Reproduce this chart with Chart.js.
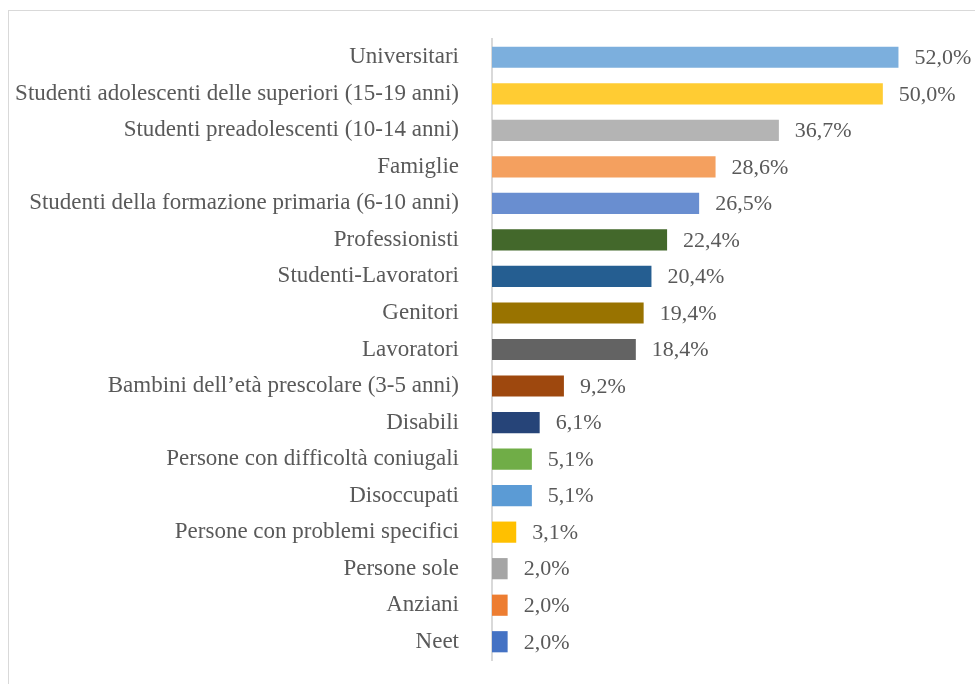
<!DOCTYPE html>
<html>
<head>
<meta charset="utf-8">
<script src="https://cdn.jsdelivr.net/npm/chart.js@4"></script>
<style>
  html, body { margin: 0; padding: 0; background: #fff; }
  #wrap { width: 975px; height: 684px; }
</style>
</head>
<body>
<div id="wrap"><canvas id="chart" width="975" height="684"></canvas></div>
<script>
// categories, top to bottom
const categories = [
    "Universitari",
    "Studenti adolescenti delle superiori (15-19 anni)",
    "Studenti preadolescenti (10-14 anni)",
    "Famiglie",
    "Studenti della formazione primaria (6-10 anni)",
    "Professionisti",
    "Studenti-Lavoratori",
    "Genitori",
    "Lavoratori",
    "Bambini dell\u2019et\u00e0 prescolare (3-5 anni)",
    "Disabili",
    "Persone con difficolt\u00e0 coniugali",
    "Disoccupati",
    "Persone con problemi specifici",
    "Persone sole",
    "Anziani",
    "Neet"
];

// percentages
const percentages = [52.0, 50.0, 36.7, 28.6, 26.5, 22.4, 20.4, 19.4, 18.4, 9.2, 6.1, 5.1, 5.1, 3.1, 2.0, 2.0, 2.0];

const barColors = [
    "#7CAFDD", "#FFCC33", "#B4B4B4", "#F4A05F", "#698ED0", "#43682B",
    "#255E91", "#997300", "#636363", "#9E480E", "#264478", "#70AD47",
    "#5B9BD5", "#FFC000", "#A5A5A5", "#ED7D31", "#4472C4"
];

const FONT = "'Liberation Serif', 'DejaVu Serif', serif";
const TEXT_COLOR = "#595959";

/* frame round the whole chart */
const framePlugin = {
    id: "frame",
    beforeDraw(chart) {
        const c = chart.ctx;
        c.save();
        c.strokeStyle = "#D9D9D9";
        c.lineWidth = 1;
        c.strokeRect(8.5, 10.5, 1000, 700);
        c.restore();
    }
};

/* value labels at the end of each bar */
const valueLabels = {
    id: "valueLabels",
    afterDatasetsDraw(chart) {
        const c = chart.ctx;
        const meta = chart.getDatasetMeta(0);
        c.save();
        c.font = "22px " + FONT;
        c.fillStyle = TEXT_COLOR;
        c.textAlign = "left";
        c.textBaseline = "middle";
        meta.data.forEach((bar, i) => {
            const txt = percentages[i].toFixed(1).replace(".", ",") + "%";
            c.fillText(txt, bar.x + 16, bar.y + 1);
        });
        c.restore();
    }
};

new Chart(document.getElementById("chart"), {
    type: "bar",
    data: {
        labels: categories,
        datasets: [{
            data: percentages,
            backgroundColor: barColors,
            borderWidth: 0,
            barPercentage: 0.58,
            categoryPercentage: 1
        }]
    },
    options: {
        indexAxis: "y",
        responsive: false,
        animation: false,
        layout: { padding: { top: 39, bottom: 24, left: 0, right: 14 } },
        plugins: {
            legend: { display: false },
            tooltip: { enabled: false }
        },
        scales: {
            x: {
                display: false,
                min: 0,
                max: 60
            },
            y: {
                afterFit(scale) {
                    scale.width = 492;
                    scale.paddingTop = 0;
                    scale.paddingBottom = 0;
                },
                grid: { display: false },
                border: { display: true, color: "#D9D9D9", width: 2 },
                ticks: {
                    padding: 25,
                    color: TEXT_COLOR,
                    font: { family: FONT, size: 23 },
                    autoSkip: false
                }
            }
        }
    },
    plugins: [framePlugin, valueLabels]
});
</script>
</body>
</html>
